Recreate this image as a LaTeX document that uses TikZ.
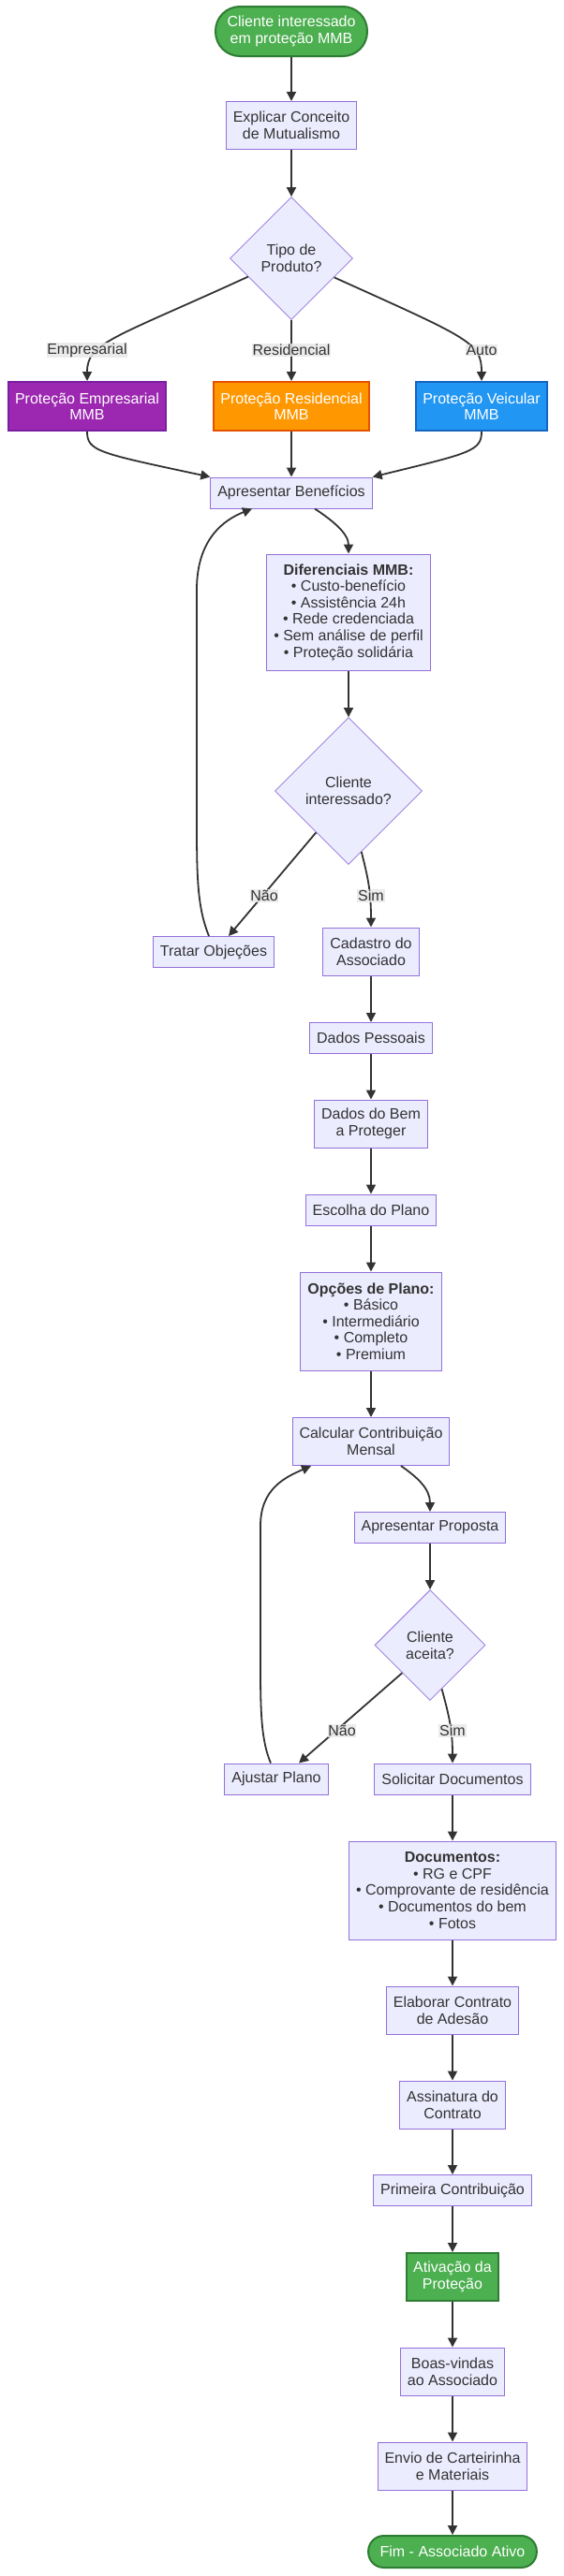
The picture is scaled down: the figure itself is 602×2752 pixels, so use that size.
\documentclass[tikz,border=0pt]{standalone}
\usepackage{fontspec}
\setmainfont{Liberation Sans}
\usetikzlibrary{shapes.geometric,arrows.meta}
\definecolor{boxfill}{HTML}{ECECFF}
\definecolor{boxline}{HTML}{9370DB}
\definecolor{txt}{HTML}{333333}
\definecolor{lblbg}{HTML}{E8E8E8}
\definecolor{mygreen}{HTML}{4CAF50}
\definecolor{mygreenline}{HTML}{2E7D32}
\definecolor{mypurple}{HTML}{9C27B0}
\definecolor{mypurpleline}{HTML}{7B1FA2}
\definecolor{myorange}{HTML}{FF9800}
\definecolor{myorangeline}{HTML}{E65100}
\definecolor{myblue}{HTML}{2196F3}
\definecolor{myblueline}{HTML}{1565C0}

\begin{document}
\begin{tikzpicture}[x=1bp,y=-1bp,
  font=\fontsize{16bp}{17.6bp}\selectfont,
  box/.style={draw=boxline,line width=1bp,fill=boxfill,text=txt,align=center,
    inner xsep=7.5bp,inner ysep=0pt,minimum height=33bp},
  box2/.style={box,minimum height=51bp},
  decision/.style={diamond,aspect=1,draw=boxline,line width=0.8bp,fill=boxfill,
    text=txt,align=center,inner sep=0pt},
  colored/.style={draw=#1line,fill=#1,line width=2bp,text=white,align=center,
    inner xsep=7.5bp,inner ysep=0pt,minimum height=52bp},
  pill/.style={colored=mygreen,rounded corners=#1,inner xsep=12.5bp},
  flow/.style={draw=txt,line width=1.8bp,-{Triangle[length=10bp,width=10bp]}},
  lbl/.style={fill=lblbg,fill opacity=0.85,text opacity=1,text=txt,inner sep=0.8bp}]
  \useasboundingbox (0,0) rectangle (602,2752);

  \node[pill=26bp,minimum height=53bp] (start) at (311,33.5) {Cliente interessado\\em proteção MMB};
  \node[box2] (explicar) at (311,134) {Explicar Conceito\\de Mutualismo};
  \node[decision,minimum size=131bp] (tipo) at (311,276) {Tipo de\\Produto?};
  \node[colored=mypurple] (emp) at (93,434) {Proteção Empresarial\\MMB};
  \node[colored=myorange] (res) at (311,434) {Proteção Residencial\\MMB};
  \node[colored=myblue] (vei) at (514,434) {Proteção Veicular\\MMB};
  \node[box] (benef) at (311,526.5) {Apresentar Benefícios};
  \node[box,minimum height=124bp] (difer) at (372,654) {\textbf{Diferenciais MMB:}\\• Custo-benefício\\• Assistência 24h\\• Rede credenciada\\• Sem análise de perfil\\• Proteção solidária};
  \node[decision,minimum size=157bp] (interes) at (372,845) {Cliente\\interessado?};
  \node[box] (tratar) at (228,1017) {Tratar Objeções};
  \node[box2] (cadastro) at (396,1016.5) {Cadastro do\\Associado};
  \node[box] (pessoais) at (396,1109) {Dados Pessoais};
  \node[box2] (bem) at (396,1200.5) {Dados do Bem\\a Proteger};
  \node[box] (escolha) at (396,1292.5) {Escolha do Plano};
  \node[box,minimum height=105bp] (opcoes) at (396,1411.5) {\textbf{Opções de Plano:}\\• Básico\\• Intermediário\\• Completo\\• Premium};
  \node[box2] (calcular) at (396,1540) {Calcular Contribuição\\Mensal};
  \node[box] (proposta) at (459,1632) {Apresentar Proposta};
  \node[decision,minimum size=118bp] (aceita) at (459,1757.5) {Cliente\\aceita?};
  \node[box] (ajustar) at (295,1900.5) {Ajustar Plano};
  \node[box] (solicitar) at (483,1900.5) {Solicitar Documentos};
  \node[box,minimum height=105bp] (docs) at (483,2019.5) {\textbf{Documentos:}\\• RG e CPF\\• Comprovante de residência\\• Documentos do bem\\• Fotos};
  \node[box2] (elaborar) at (483,2147.5) {Elaborar Contrato\\de Adesão};
  \node[box2] (assinatura) at (483,2248.5) {Assinatura do\\Contrato};
  \node[box] (primeira) at (483,2340) {Primeira Contribuição};
  \node[colored=mygreen,minimum height=51bp] (ativacao) at (483,2432.5) {Ativação da\\Proteção};
  \node[box2] (boas) at (483,2533.5) {Boas-vindas\\ao Associado};
  \node[box2] (envio) at (483,2634.5) {Envio de Carteirinha\\e Materiais};
  \node[pill=16.5bp,minimum height=34bp] (fim) at (483,2726) {Fim - Associado Ativo};

  \foreach \a/\b in {start/explicar,explicar/tipo,tipo/res,res/benef,difer/interes,
      cadastro/pessoais,pessoais/bem,bem/escolha,escolha/opcoes,opcoes/calcular,
      proposta/aceita,solicitar/docs,docs/elaborar,elaborar/assinatura,
      assinatura/primeira,primeira/ativacao,ativacao/boas,boas/envio,envio/fim}
    \draw[flow] (\a) -- (\b);

  \draw[flow] (tipo.203) .. controls (120,362) and (93,366) .. (emp.north);
  \draw[flow] (tipo.-24) .. controls (502,362) and (514,366) .. (vei.north);
  \draw[flow] (emp.south) .. controls (93,482) and (105,484) .. (benef.north west);
  \draw[flow] (vei.south) .. controls (514,482) and (502,484) .. (benef.north east);
  \draw[flow] ([xshift=25bp]benef.south) .. controls (355,556) and (372,570) .. (difer.north);
  \draw[flow] (interes.-128) -- ([xshift=16bp]tratar.north);
  \draw[flow] (interes.-78) .. controls (392,935) and (396,950) .. (cadastro.north);
  \draw[flow] ([xshift=-5bp]tratar.north) .. controls (211,970) and (210,940) .. (210,880)
    -- (210,630) .. controls (210,575) and (240,555) .. ([xshift=-42bp]benef.south);
  \draw[flow] ([xshift=32bp]calcular.south) .. controls (445,1578) and (459,1590) .. (proposta.north);
  \draw[flow] (aceita.-135) -- ([xshift=24bp]ajustar.north);
  \draw[flow] (aceita.-75) .. controls (480,1835) and (483,1850) .. (solicitar.north);
  \draw[flow] ([xshift=-6bp]ajustar.north) .. controls (279,1860) and (278,1830) .. (278,1780)
    -- (278,1630) .. controls (278,1590) and (305,1578) .. ([xshift=-64bp]calcular.south);

  \node[lbl] (lemp) at (93,374) {Empresarial};
  \node[lbl] (lres) at (311,374) {Residencial};
  \node[lbl] (lauto) at (514,374) {Auto};
  \node[lbl] (lnao1) at (282,957) {Não};
  \node[lbl] (lsim1) at (396,957) {Sim};
  \node[lbl] (lnao2) at (365,1849) {Não};
  \node[lbl] (lsim2) at (483,1849) {Sim};
\end{tikzpicture}
\end{document}
